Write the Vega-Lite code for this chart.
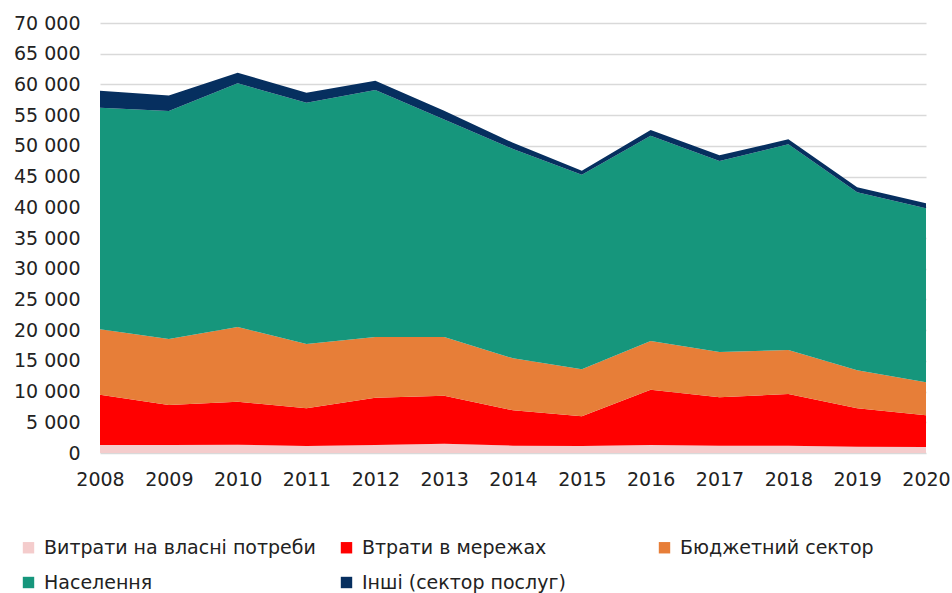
{
  "$schema": "https://vega.github.io/schema/vega-lite/v6.json",
  "autosize": {"type": "none"},
  "width": 826,
  "height": 430,
  "padding": {"left": 100, "top": 23, "right": 26, "bottom": 140},
  "background": "white",
  "config": {
    "view": {"stroke": null},
    "font": "DejaVu Sans",
    "axis": {"labelFont": "DejaVu Sans", "labelFontSize": 19, "labelColor": "#222222", "domain": false, "ticks": false},
    "legend": {"labelFont": "DejaVu Sans", "labelFontSize": 19, "labelColor": "#222222"}
  },
  "data": {
    "values": [
      {"year": 2008, "cat": "Витрати на власні потреби", "ord": 1, "value": 1300},
      {"year": 2008, "cat": "Втрати в мережах", "ord": 2, "value": 8200},
      {"year": 2008, "cat": "Бюджетний сектор", "ord": 3, "value": 10630},
      {"year": 2008, "cat": "Населення", "ord": 4, "value": 36090},
      {"year": 2008, "cat": "Інші (сектор послуг)", "ord": 5, "value": 2760},
      {"year": 2009, "cat": "Витрати на власні потреби", "ord": 1, "value": 1300},
      {"year": 2009, "cat": "Втрати в мережах", "ord": 2, "value": 6510},
      {"year": 2009, "cat": "Бюджетний сектор", "ord": 3, "value": 10750},
      {"year": 2009, "cat": "Населення", "ord": 4, "value": 37110},
      {"year": 2009, "cat": "Інші (сектор послуг)", "ord": 5, "value": 2530},
      {"year": 2010, "cat": "Витрати на власні потреби", "ord": 1, "value": 1350},
      {"year": 2010, "cat": "Втрати в мережах", "ord": 2, "value": 7010},
      {"year": 2010, "cat": "Бюджетний сектор", "ord": 3, "value": 12150},
      {"year": 2010, "cat": "Населення", "ord": 4, "value": 39670},
      {"year": 2010, "cat": "Інші (сектор послуг)", "ord": 5, "value": 1720},
      {"year": 2011, "cat": "Витрати на власні потреби", "ord": 1, "value": 1140},
      {"year": 2011, "cat": "Втрати в мережах", "ord": 2, "value": 6130},
      {"year": 2011, "cat": "Бюджетний сектор", "ord": 3, "value": 10470},
      {"year": 2011, "cat": "Населення", "ord": 4, "value": 39290},
      {"year": 2011, "cat": "Інші (сектор послуг)", "ord": 5, "value": 1620},
      {"year": 2012, "cat": "Витрати на власні потреби", "ord": 1, "value": 1300},
      {"year": 2012, "cat": "Втрати в мережах", "ord": 2, "value": 7710},
      {"year": 2012, "cat": "Бюджетний сектор", "ord": 3, "value": 9870},
      {"year": 2012, "cat": "Населення", "ord": 4, "value": 40210},
      {"year": 2012, "cat": "Інші (сектор послуг)", "ord": 5, "value": 1510},
      {"year": 2013, "cat": "Витрати на власні потреби", "ord": 1, "value": 1520},
      {"year": 2013, "cat": "Втрати в мережах", "ord": 2, "value": 7810},
      {"year": 2013, "cat": "Бюджетний сектор", "ord": 3, "value": 9550},
      {"year": 2013, "cat": "Населення", "ord": 4, "value": 35420},
      {"year": 2013, "cat": "Інші (сектор послуг)", "ord": 5, "value": 1400},
      {"year": 2014, "cat": "Витрати на власні потреби", "ord": 1, "value": 1190},
      {"year": 2014, "cat": "Втрати в мережах", "ord": 2, "value": 5760},
      {"year": 2014, "cat": "Бюджетний сектор", "ord": 3, "value": 8460},
      {"year": 2014, "cat": "Населення", "ord": 4, "value": 34080},
      {"year": 2014, "cat": "Інші (сектор послуг)", "ord": 5, "value": 1010},
      {"year": 2015, "cat": "Витрати на власні потреби", "ord": 1, "value": 1140},
      {"year": 2015, "cat": "Втрати в мережах", "ord": 2, "value": 4830},
      {"year": 2015, "cat": "Бюджетний сектор", "ord": 3, "value": 7650},
      {"year": 2015, "cat": "Населення", "ord": 4, "value": 31690},
      {"year": 2015, "cat": "Інші (сектор послуг)", "ord": 5, "value": 650},
      {"year": 2016, "cat": "Витрати на власні потреби", "ord": 1, "value": 1300},
      {"year": 2016, "cat": "Втрати в мережах", "ord": 2, "value": 9010},
      {"year": 2016, "cat": "Бюджетний сектор", "ord": 3, "value": 7920},
      {"year": 2016, "cat": "Населення", "ord": 4, "value": 33430},
      {"year": 2016, "cat": "Інші (сектор послуг)", "ord": 5, "value": 920},
      {"year": 2017, "cat": "Витрати на власні потреби", "ord": 1, "value": 1190},
      {"year": 2017, "cat": "Втрати в мережах", "ord": 2, "value": 7870},
      {"year": 2017, "cat": "Бюджетний сектор", "ord": 3, "value": 7380},
      {"year": 2017, "cat": "Населення", "ord": 4, "value": 31090},
      {"year": 2017, "cat": "Інші (сектор послуг)", "ord": 5, "value": 930},
      {"year": 2018, "cat": "Витрати на власні потреби", "ord": 1, "value": 1190},
      {"year": 2018, "cat": "Втрати в мережах", "ord": 2, "value": 8410},
      {"year": 2018, "cat": "Бюджетний сектор", "ord": 3, "value": 7170},
      {"year": 2018, "cat": "Населення", "ord": 4, "value": 33480},
      {"year": 2018, "cat": "Інші (сектор послуг)", "ord": 5, "value": 810},
      {"year": 2019, "cat": "Витрати на власні потреби", "ord": 1, "value": 1030},
      {"year": 2019, "cat": "Втрати в мережах", "ord": 2, "value": 6240},
      {"year": 2019, "cat": "Бюджетний сектор", "ord": 3, "value": 6190},
      {"year": 2019, "cat": "Населення", "ord": 4, "value": 28970},
      {"year": 2019, "cat": "Інші (сектор послуг)", "ord": 5, "value": 820},
      {"year": 2020, "cat": "Витрати на власні потреби", "ord": 1, "value": 980},
      {"year": 2020, "cat": "Втрати в мережах", "ord": 2, "value": 5150},
      {"year": 2020, "cat": "Бюджетний сектор", "ord": 3, "value": 5370},
      {"year": 2020, "cat": "Населення", "ord": 4, "value": 28330},
      {"year": 2020, "cat": "Інші (сектор послуг)", "ord": 5, "value": 810}
    ]
  },
  "mark": {"type": "area", "interpolate": "linear"},
  "encoding": {
    "x": {
      "field": "year", "type": "quantitative",
      "scale": {"domain": [2008, 2020], "nice": false, "zero": false},
      "axis": {"title": null, "values": [2008, 2009, 2010, 2011, 2012, 2013, 2014, 2015, 2016, 2017, 2018, 2019, 2020], "format": "d", "grid": false, "labelPadding": 17, "labelFlush": false}
    },
    "y": {
      "field": "value", "type": "quantitative", "stack": "zero",
      "scale": {"domain": [0, 70000], "nice": false},
      "axis": {"title": null, "values": [0, 5000, 10000, 15000, 20000, 25000, 30000, 35000, 40000, 45000, 50000, 55000, 60000, 65000, 70000], "labelExpr": "replace(format(datum.value, ','), ',', ' ')", "grid": true, "gridColor": "#d9d9d9", "gridWidth": 1.5, "labelPadding": 20}
    },
    "color": {
      "field": "cat", "type": "nominal",
      "scale": {
        "domain": ["Витрати на власні потреби", "Втрати в мережах", "Бюджетний сектор", "Населення", "Інші (сектор послуг)"],
        "range": ["#f4cccc", "#ff0000", "#e77e38", "#16967c", "#062f5f"]
      },
      "legend": {
        "title": null, "orient": "none", "legendX": -81, "legendY": 515,
        "direction": "horizontal", "columns": 3, "gridAlign": "all",
        "symbolType": "square", "symbolSize": 130, "symbolStrokeWidth": 0, "symbolOpacity": 1,
        "labelOffset": 6, "columnPadding": 21, "rowPadding": 15, "labelLimit": 400
      }
    },
    "order": {"field": "ord", "type": "quantitative", "sort": "ascending"}
  }
}
